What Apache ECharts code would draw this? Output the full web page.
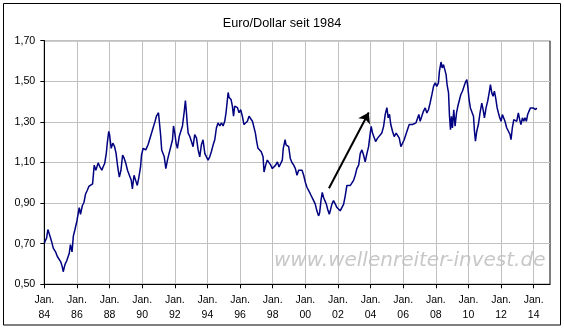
<!DOCTYPE html>
<html>
<head>
<meta charset="utf-8">
<script src="https://cdn.jsdelivr.net/npm/echarts@6/dist/echarts.min.js"></script>
<style>
html,body{margin:0;padding:0;background:#fff;}
#c{width:564px;height:328px;}
</style>
</head>
<body>
<div id="c"></div>
<script>
const titleText = 'Euro/Dollar seit 1984';
const watermarkText = 'www.wellenreiter-invest.de';
const xTickYears = [1984,1986,1988,1990,1992,1994,1996,1998,2000,2002,2004,2006,2008,2010,2012,2014];
const yTicks = [0.5,0.7,0.9,1.1,1.3,1.5,1.7];

const years = [
1984.00,1984.14,1984.22,1984.35,1984.45,1984.55,1984.69,1984.80,1984.90,1985.00,
1985.10,1985.16,1985.27,1985.37,1985.53,1985.60,1985.70,1985.78,1985.88,1986.00,
1986.14,1986.22,1986.33,1986.43,1986.53,1986.63,1986.73,1986.84,1986.96,1987.06,
1987.16,1987.30,1987.40,1987.53,1987.60,1987.70,1987.80,1987.86,1987.95,1988.00,
1988.10,1988.20,1988.30,1988.40,1988.50,1988.60,1988.70,1988.80,1988.90,1989.00,
1989.10,1989.20,1989.33,1989.40,1989.50,1989.60,1989.70,1989.80,1989.90,1989.96,
1990.06,1990.22,1990.37,1990.47,1990.63,1990.78,1990.88,1991.00,1991.12,1991.20,
1991.35,1991.45,1991.55,1991.65,1991.75,1991.86,1991.92,1992.00,1992.08,1992.16,
1992.27,1992.37,1992.47,1992.57,1992.65,1992.70,1992.76,1992.82,1992.92,1993.02,
1993.12,1993.22,1993.33,1993.43,1993.53,1993.63,1993.73,1993.84,1993.94,1994.04,
1994.14,1994.24,1994.35,1994.45,1994.55,1994.65,1994.76,1994.86,1994.96,1995.06,
1995.14,1995.27,1995.33,1995.40,1995.45,1995.53,1995.60,1995.67,1995.75,1995.84,
1995.94,1996.04,1996.14,1996.24,1996.35,1996.45,1996.55,1996.65,1996.76,1996.86,
1996.94,1997.02,1997.10,1997.20,1997.30,1997.41,1997.47,1997.57,1997.67,1997.78,
1997.88,1997.98,1998.08,1998.18,1998.29,1998.39,1998.49,1998.59,1998.65,1998.76,
1998.82,1998.90,1998.98,1999.08,1999.18,1999.29,1999.39,1999.49,1999.59,1999.69,
1999.80,1999.90,2000.00,2000.10,2000.20,2000.31,2000.41,2000.51,2000.61,2000.71,
2000.82,2000.88,2000.96,2001.04,2001.12,2001.20,2001.29,2001.37,2001.47,2001.53,
2001.63,2001.73,2001.84,2001.94,2002.04,2002.14,2002.24,2002.35,2002.45,2002.55,
2002.65,2002.76,2002.86,2002.96,2003.06,2003.16,2003.27,2003.37,2003.47,2003.57,
2003.67,2003.78,2003.88,2003.98,2004.04,2004.12,2004.22,2004.31,2004.43,2004.55,
2004.69,2004.80,2004.90,2005.00,2005.08,2005.16,2005.24,2005.35,2005.45,2005.57,
2005.65,2005.76,2005.86,2005.96,2006.06,2006.16,2006.27,2006.37,2006.47,2006.57,
2006.67,2006.78,2006.86,2006.96,2007.04,2007.14,2007.24,2007.35,2007.45,2007.55,
2007.65,2007.76,2007.86,2007.96,2008.06,2008.16,2008.22,2008.32,2008.39,2008.47,
2008.57,2008.63,2008.69,2008.78,2008.84,2008.90,2008.96,2009.02,2009.10,2009.18,
2009.27,2009.35,2009.45,2009.53,2009.63,2009.71,2009.80,2009.90,2009.96,2010.04,
2010.12,2010.20,2010.31,2010.37,2010.43,2010.51,2010.61,2010.71,2010.82,2010.90,
2010.98,2011.08,2011.18,2011.27,2011.35,2011.43,2011.51,2011.59,2011.67,2011.76,
2011.84,2011.92,2012.00,2012.08,2012.16,2012.24,2012.35,2012.45,2012.55,2012.61,
2012.69,2012.78,2012.86,2012.96,2013.06,2013.14,2013.22,2013.31,2013.39,2013.47,
2013.55,2013.63,2013.71,2013.80,2013.88,2013.96,2014.04,2014.12,2014.18
];
const rates = [
0.703,0.728,0.770,0.737,0.710,0.678,0.660,0.637,0.628,0.612,
0.587,0.562,0.598,0.615,0.653,0.695,0.660,0.737,0.770,0.812,
0.878,0.845,0.887,0.903,0.945,0.962,0.982,0.975,0.995,1.087,
1.062,1.098,1.080,1.062,1.078,1.095,1.145,1.195,1.253,1.237,
1.170,1.195,1.180,1.145,1.078,1.028,1.062,1.137,1.120,1.095,
1.062,1.053,1.012,0.970,1.037,1.012,0.987,1.028,1.078,1.137,
1.170,1.162,1.190,1.195,1.260,1.300,1.330,1.345,1.245,1.160,
1.130,1.070,1.112,1.145,1.153,1.212,1.280,1.245,1.195,1.170,
1.228,1.220,1.280,1.345,1.405,1.360,1.295,1.245,1.228,1.203,
1.178,1.237,1.220,1.162,1.128,1.187,1.212,1.145,1.128,1.112,
1.128,1.153,1.187,1.212,1.270,1.295,1.280,1.295,1.280,1.303,
1.345,1.445,1.420,1.428,1.410,1.378,1.328,1.378,1.387,1.370,
1.345,1.360,1.328,1.287,1.295,1.303,1.328,1.337,1.303,1.295,
1.245,1.203,1.170,1.162,1.153,1.128,1.053,1.087,1.112,1.103,
1.087,1.070,1.062,1.087,1.103,1.078,1.095,1.112,1.170,1.212,
1.187,1.195,1.178,1.120,1.100,1.087,1.070,1.037,1.062,1.053,
1.062,1.037,1.003,0.978,0.970,0.945,0.953,0.912,0.895,0.862,
0.837,0.853,0.912,0.953,0.928,0.912,0.895,0.870,0.845,0.862,
0.895,0.912,0.895,0.878,0.870,0.862,0.870,0.895,0.937,0.987,
0.978,0.987,0.995,1.012,1.037,1.070,1.087,1.145,1.162,1.137,
1.103,1.145,1.178,1.245,1.278,1.245,1.253,1.203,1.220,1.228,
1.245,1.278,1.337,1.370,1.320,1.337,1.287,1.253,1.228,1.245,
1.253,1.220,1.178,1.195,1.212,1.237,1.245,1.287,1.295,1.287,
1.278,1.295,1.303,1.337,1.303,1.328,1.352,1.369,1.344,1.360,
1.393,1.434,1.475,1.492,1.475,1.492,1.549,1.595,1.566,1.582,
1.582,1.533,1.484,1.443,1.328,1.262,1.328,1.270,1.360,1.279,
1.344,1.377,1.385,1.434,1.451,1.459,1.492,1.508,1.475,1.410,
1.369,1.360,1.328,1.254,1.205,1.254,1.287,1.344,1.393,1.360,
1.320,1.369,1.402,1.443,1.484,1.443,1.426,1.451,1.418,1.369,
1.344,1.320,1.303,1.336,1.328,1.303,1.270,1.262,1.238,1.213,
1.270,1.311,1.311,1.303,1.344,1.311,1.287,1.320,1.303,1.320,
1.303,1.336,1.352,1.369,1.377,1.369,1.377,1.360,1.369
];
const arrowFrom = [2001.45, 0.973];
const arrowTo = [2003.89, 1.346];

const seriesData = years.map((y, i) => [y, rates[i]]);

const chart = echarts.init(document.getElementById('c'), null, {renderer: 'canvas'});
const font = '"Liberation Sans", Arial, sans-serif';
chart.setOption({
  backgroundColor: '#ffffff',
  animation: false,
  title: {
    text: titleText,
    left: 'center',
    top: 12,
    textStyle: {fontFamily: font, fontSize: 12.7, fontWeight: 'normal', color: '#000'}
  },
  grid: {
    left: 44.3, top: 40.7, right: 14, bottom: 43.7,
    show: true, borderColor: '#000', borderWidth: 1, backgroundColor: 'transparent',
    containLabel: false
  },
  graphic: [
    {
      type: 'rect', z: 100, silent: true,
      shape: {x: 3.5, y: 3.5, width: 557, height: 321.5},
      style: {fill: 'none', stroke: '#000', lineWidth: 1}
    },
    {
      type: 'text', z: -10, silent: true,
      left: 274, top: 251,
      style: {
        text: watermarkText,
        font: 'oblique 20px "DejaVu Sans", Verdana, sans-serif',
        fill: '#c8c8c8'
      }
    }
  ],
  xAxis: {
    type: 'value',
    min: 1984, max: 2015, interval: 2,
    axisLine: {show: true, lineStyle: {color: '#000', width: 1}},
    axisTick: {show: true, inside: false, length: 4, lineStyle: {color: '#000'}, customValues: xTickYears},
    splitLine: {show: true, lineStyle: {color: '#c0c0c0', width: 1}},
    axisLabel: {
      customValues: xTickYears,
      margin: 8,
      fontFamily: font, fontSize: 10.5, color: '#000', lineHeight: 15,
      formatter: function (v) {
        const yy = String(Math.round(v) % 100).padStart(2, '0');
        return 'Jan.\n' + yy;
      }
    }
  },
  yAxis: {
    type: 'value',
    min: 0.5, max: 1.7, interval: 0.2,
    axisLine: {show: true, lineStyle: {color: '#000', width: 1}},
    axisTick: {show: true, inside: false, length: 4, lineStyle: {color: '#000'}},
    splitLine: {show: true, lineStyle: {color: '#c0c0c0', width: 1}},
    axisLabel: {
      margin: 9,
      fontFamily: font, fontSize: 10.7, color: '#000',
      formatter: function (v) { return v.toFixed(2).replace('.', ','); }
    }
  },
  series: [{
    type: 'line',
    data: seriesData,
    showSymbol: false,
    symbol: 'none',
    lineStyle: {color: '#000080', width: 1.5},
    z: 3,
    markLine: {
      silent: true,
      symbol: ['none', 'arrow'],
      symbolSize: 10,
      label: {show: false},
      lineStyle: {color: '#000', width: 2, type: 'solid'},
      data: [[{coord: arrowFrom, symbol: 'none'}, {coord: arrowTo, symbol: 'arrow', symbolSize: 10}]]
    }
  }]
});
</script>
</body>
</html>
